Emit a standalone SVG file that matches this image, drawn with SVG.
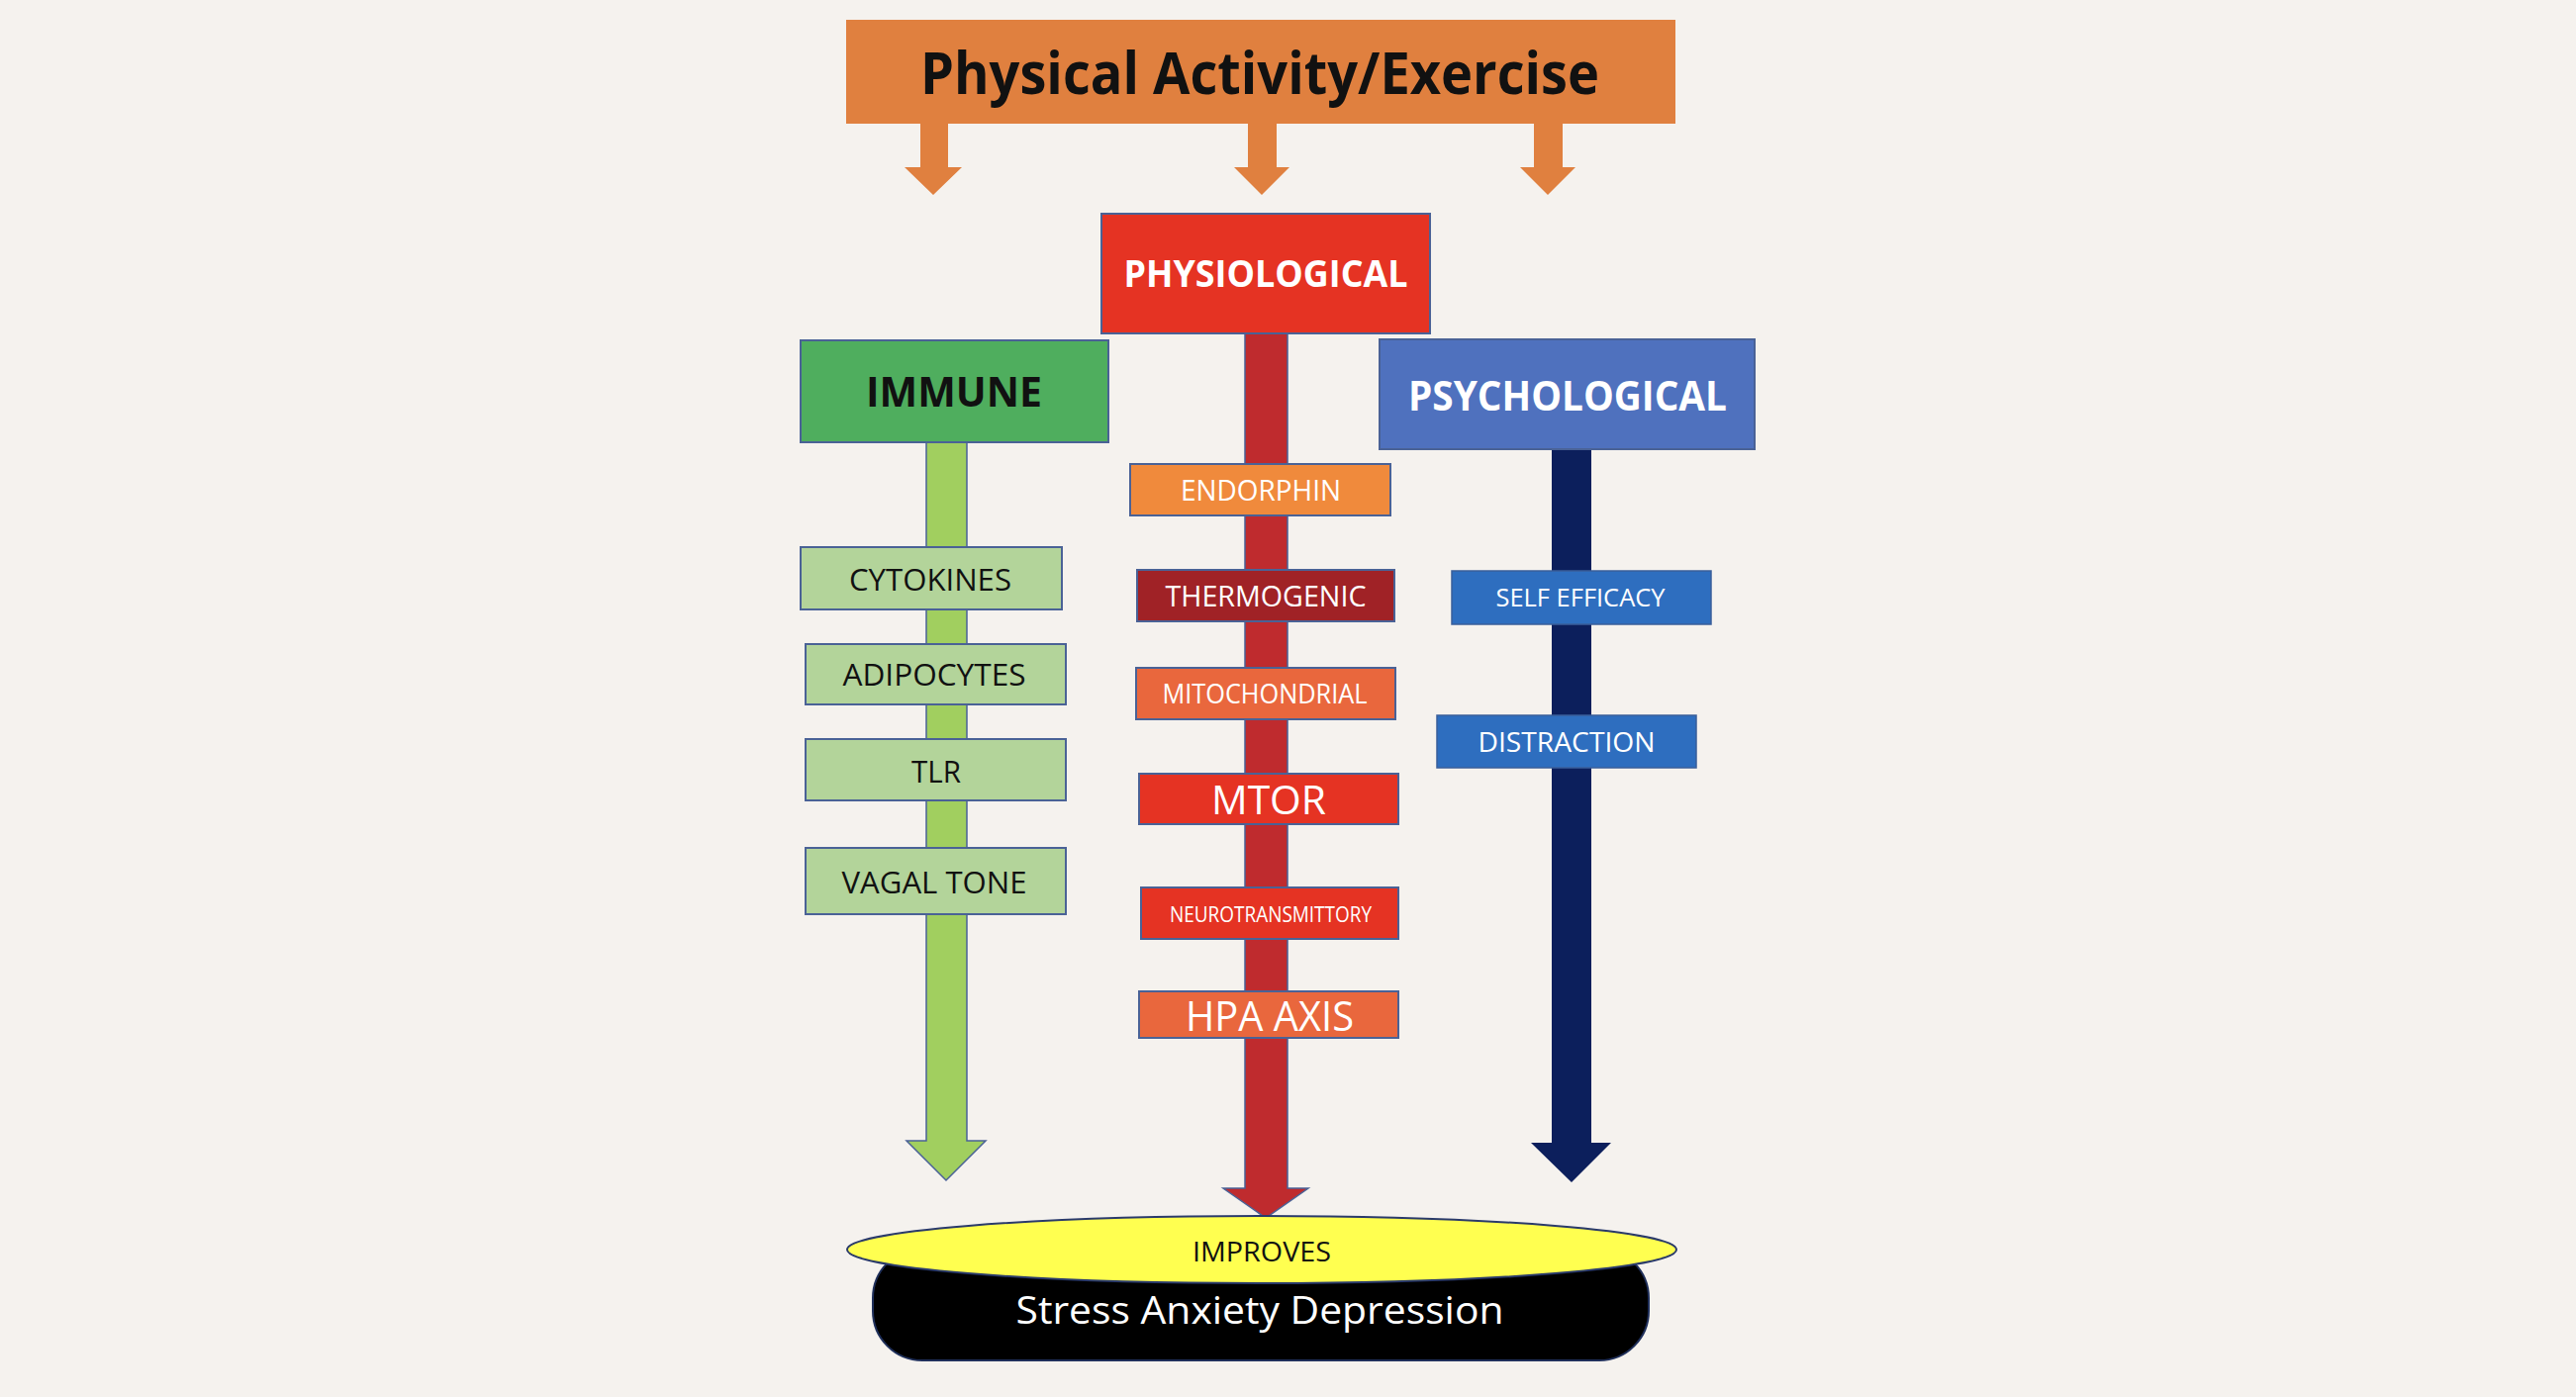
<svg xmlns="http://www.w3.org/2000/svg" width="2603" height="1412" viewBox="0 0 2603 1412">
<style>
.box{stroke:#4a6296;stroke-width:2}
.t{font-family:"Open Sans","Liberation Sans",sans-serif;text-anchor:middle}
.b{font-weight:700}
.w{fill:#ffffff}
.k{fill:#111111}
.arr{stroke:#4a6296;stroke-width:1.5}
</style>
<rect x="0" y="0" width="2603" height="1412" fill="#f5f2ee"/>
<g id="connectors">
  <path d="M930,125 H958 V169 H972 L943,197 L914,169 H930 Z" fill="#e0803f"/>
  <path d="M1261,125 H1290 V169 H1303 L1275,197 L1247,169 H1261 Z" fill="#e0803f"/>
  <path d="M1550,125 H1579 V169 H1592 L1564,197 L1536,169 H1550 Z" fill="#e0803f"/>
  <path class="arr" d="M936,447 H977 V1153 H996 L956,1193 L916,1153 H936 Z" fill="#a1cf5f"/>
  <path class="arr" d="M1258,337 H1301 V1201 H1322 L1279,1231 L1236,1201 H1258 Z" fill="#bf2b2e"/>
  <path d="M1568,454 H1608 V1155 H1628 L1588,1195 L1547,1155 H1568 Z" fill="#0c1f5c"/>
</g>
<g id="exercise">
  <rect x="855" y="20" width="838" height="105" fill="#e0803f"/>
  <text class="t b k" x="1273" y="95" font-size="59" textLength="686" lengthAdjust="spacingAndGlyphs">Physical Activity/Exercise</text>
</g>
<g id="physiological">
  <rect class="box" x="1113" y="216" width="332" height="121" fill="#e53323" stroke="#8a4a6a"/>
  <text class="t b w" x="1279" y="290" font-size="38" textLength="287" lengthAdjust="spacingAndGlyphs">PHYSIOLOGICAL</text>
</g>
<g id="immune">
  <rect class="box" x="809" y="344" width="311" height="103" fill="#4fae5e"/>
  <text class="t b k" x="964" y="411" font-size="41" textLength="178" lengthAdjust="spacingAndGlyphs">IMMUNE</text>
</g>
<g id="psychological">
  <rect class="box" x="1394" y="343" width="379" height="111" fill="#4f71be"/>
  <text class="t b w" x="1584" y="415" font-size="42" textLength="322" lengthAdjust="spacingAndGlyphs">PSYCHOLOGICAL</text>
</g>
<g id="cytokines">
  <rect class="box" x="809" y="553" width="264" height="63" fill="#b3d49a"/>
  <text class="t k" x="940" y="597" font-size="31" textLength="164" lengthAdjust="spacingAndGlyphs">CYTOKINES</text>
</g>
<g id="adipocytes">
  <rect class="box" x="814" y="651" width="263" height="61" fill="#b3d49a"/>
  <text class="t k" x="944" y="693" font-size="31" textLength="185" lengthAdjust="spacingAndGlyphs">ADIPOCYTES</text>
</g>
<g id="tlr">
  <rect class="box" x="814" y="747" width="263" height="62" fill="#b3d49a"/>
  <text class="t k" x="946" y="791" font-size="31" textLength="50" lengthAdjust="spacingAndGlyphs">TLR</text>
</g>
<g id="vagal-tone">
  <rect class="box" x="814" y="857" width="263" height="67" fill="#b3d49a"/>
  <text class="t k" x="944" y="903" font-size="31" textLength="187" lengthAdjust="spacingAndGlyphs">VAGAL TONE</text>
</g>
<g id="endorphin">
  <rect class="box" x="1142" y="469" width="263" height="52" fill="#f08a3c"/>
  <text class="t w" x="1274" y="506" font-size="29" textLength="162" lengthAdjust="spacingAndGlyphs">ENDORPHIN</text>
</g>
<g id="thermogenic">
  <rect class="box" x="1149" y="576" width="260" height="52" fill="#a02226"/>
  <text class="t w" x="1279" y="613" font-size="29" textLength="203" lengthAdjust="spacingAndGlyphs">THERMOGENIC</text>
</g>
<g id="mitochondrial">
  <rect class="box" x="1148" y="675" width="262" height="52" fill="#e9673d"/>
  <text class="t w" x="1278" y="711" font-size="27" textLength="207" lengthAdjust="spacingAndGlyphs">MITOCHONDRIAL</text>
</g>
<g id="mtor">
  <rect class="box" x="1151" y="782" width="262" height="51" fill="#e53323"/>
  <text class="t w" x="1282" y="823" font-size="40" textLength="116" lengthAdjust="spacingAndGlyphs">MTOR</text>
</g>
<g id="neurotransmittory">
  <rect class="box" x="1153" y="897" width="260" height="52" fill="#e53323"/>
  <text class="t w" x="1284" y="932" font-size="21" textLength="204" lengthAdjust="spacingAndGlyphs">NEUROTRANSMITTORY</text>
</g>
<g id="hpa-axis">
  <rect class="box" x="1151" y="1002" width="262" height="47" fill="#e9673d"/>
  <text class="t w" x="1283" y="1042" font-size="42" textLength="170" lengthAdjust="spacingAndGlyphs">HPA AXIS</text>
</g>
<g id="self-efficacy">
  <rect x="1467" y="577" width="262" height="54" fill="#2e6ebf" stroke="#3a5f9a" stroke-width="1.5"/>
  <text class="t w" x="1597" y="613" font-size="26" textLength="171" lengthAdjust="spacingAndGlyphs">SELF EFFICACY</text>
</g>
<g id="distraction">
  <rect x="1452" y="723" width="262" height="53" fill="#2e6ebf" stroke="#3a5f9a" stroke-width="1.5"/>
  <text class="t w" x="1583" y="760" font-size="28" textLength="179" lengthAdjust="spacingAndGlyphs">DISTRACTION</text>
</g>
<g id="outcome">
  <rect x="882" y="1262" width="784" height="113" rx="50" ry="50" fill="#000000" stroke="#1f2f5a" stroke-width="2"/>
  <text class="t w" x="1273" y="1338" font-size="38" textLength="493" lengthAdjust="spacingAndGlyphs">Stress Anxiety Depression</text>
</g>
<g id="improves">
  <ellipse cx="1275" cy="1263" rx="419" ry="34" fill="#ffff50" stroke="#2a3a6a" stroke-width="2"/>
  <text class="t k" x="1275" y="1275" font-size="28" textLength="140" lengthAdjust="spacingAndGlyphs">IMPROVES</text>
</g>
</svg>
